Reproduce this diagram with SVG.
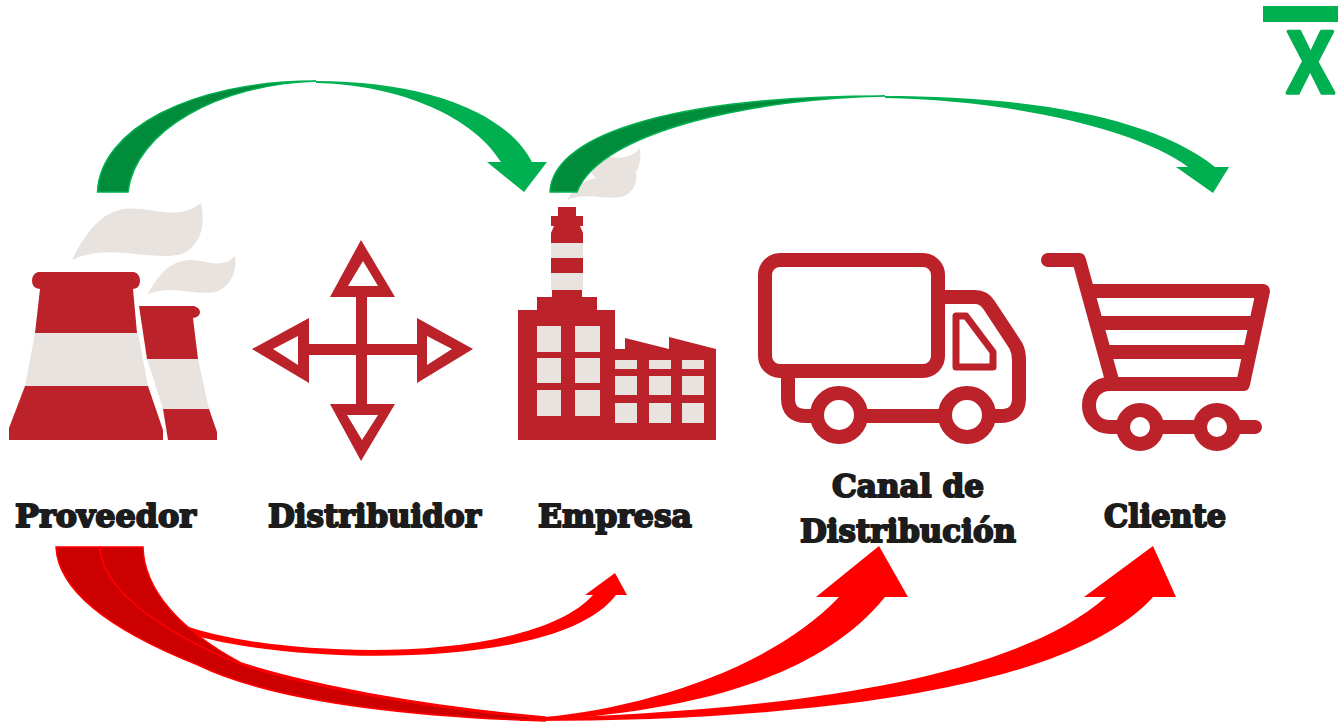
<svg xmlns="http://www.w3.org/2000/svg" width="1338" height="725" viewBox="0 0 1338 725">
<style>
.r{fill:#bb2229}.b{fill:#e9e3df}
.o{fill:none;stroke:#bb2229;stroke-linejoin:round;stroke-linecap:round}
.lbl{font-family:"DejaVu Serif","Liberation Serif",serif;font-weight:700;font-size:32px;fill:#1c1c1c;stroke:#1c1c1c;stroke-width:2px;stroke-linejoin:round}
.gd{fill:#008c3a;stroke:#00b050;stroke-width:1.5}
.gb{fill:#00b050}
.rd{fill:#cc0000;stroke:#f00;stroke-width:1.5}
.rb{fill:#f00}
</style>
<rect width="1338" height="725" fill="#fff"/>
<g id="proveedor">
<path class="b" d="M72 260C84 236 100 212 124 209C150 206 178 222 201 203C205 222 203 244 182 254C150 262 110 242 72 260Z"/>
<path class="b" d="M148 294C158 274 172 260 190 260C208 260 220 270 235 256C237 270 232 286 216 292C194 296 172 284 148 294Z"/>
<path class="r" d="M38 272H134Q140 274 140 281Q140 288 133 289L137 333H35L40 289Q32 288 32 281Q32 274 38 272Z"/>
<path class="b" d="M35 333H138L148 386H25Z"/>
<path class="r" d="M25 386H148L163 430V440H9V428Z"/>
<path class="r" d="M139 306H194Q200 308 200 312Q200 317 193 318L198 359H147Z"/>
<path class="b" d="M147 359H198L209 409H163Z"/>
<path class="r" d="M163 409H209L217 432V440H168Z"/>
<text class="lbl" x="15" y="527" textLength="181" lengthAdjust="spacingAndGlyphs">Proveedor</text>
</g>
<g id="distribuidor">
<path class="r" d="M356 296H367V344H417V355H367V405H356V355H309V344H356Z"/>
<path class="r" d="M361 240L395 297H330ZM363 261L348 286H378Z" fill-rule="evenodd"/>
<path class="r" d="M361 461L395 404H330ZM362 440L347 415H378Z" fill-rule="evenodd"/>
<path class="r" d="M252 349L309 318V383ZM273 349L298 365V336Z" fill-rule="evenodd"/>
<path class="r" d="M473 349L417 318V383ZM452 349L427 365V336Z" fill-rule="evenodd"/>
<text class="lbl" x="268" y="527" textLength="213" lengthAdjust="spacingAndGlyphs">Distribuidor</text>
</g>
<g id="empresa">
<path class="b" d="M567 200C574 188 584 180 596 178C586 170 590 160 604 156C618 158 630 160 640 148C641 158 640 166 636 172C638 182 634 192 622 197C604 200 586 192 567 200Z"/>
<path class="r" d="M558 207H576V216H583V226H580L583 233V243H551V233L554 226H551V216H558Z"/>
<rect class="b" x="551" y="243" width="32" height="15"/>
<rect class="r" x="551" y="258" width="32" height="15"/>
<rect class="b" x="551" y="273" width="32" height="17"/>
<path class="r" d="M552 290H582V297H597V310H615V349H625V338L669 349V337L716 349V440H518V310H537V297H552Z"/>
<g class="b">
<rect x="537" y="326" width="24" height="26"/><rect x="575" y="326" width="25" height="26"/>
<rect x="537" y="358" width="24" height="25"/><rect x="575" y="358" width="25" height="25"/>
<rect x="537" y="390" width="24" height="26"/><rect x="575" y="390" width="25" height="26"/>
<rect x="615" y="360" width="22" height="9"/><rect x="649" y="360" width="22" height="9"/><rect x="682" y="360" width="22" height="9"/>
<rect x="615" y="376" width="22" height="19"/><rect x="649" y="376" width="22" height="19"/><rect x="682" y="376" width="22" height="19"/>
<rect x="615" y="403" width="22" height="20"/><rect x="649" y="403" width="22" height="20"/><rect x="682" y="403" width="22" height="20"/>
</g>
<text class="lbl" x="538" y="527" textLength="154" lengthAdjust="spacingAndGlyphs">Empresa</text>
</g>
<g id="canal">
<rect class="o" x="765" y="260" width="173" height="111" rx="15" stroke-width="14"/>
<path class="o" stroke-width="14" d="M938 297H975Q984 297 989 305L1016 346Q1019 352 1019 360V398Q1019 416 1000 416H990M788 375V398Q788 416 806 416H815M865 416H940"/>
<circle class="o" cx="839" cy="415" r="22" stroke-width="14"/>
<circle class="o" cx="967" cy="415" r="22" stroke-width="14"/>
<path class="o" stroke-width="7" d="M956 316H966L993 352V367H956Z"/>
<text class="lbl" x="832" y="497" textLength="152" lengthAdjust="spacingAndGlyphs">Canal de</text>
<text class="lbl" x="800" y="542" textLength="216" lengthAdjust="spacingAndGlyphs">Distribución</text>
</g>
<g id="cliente">
<path class="o" stroke-width="14" d="M1048 260H1079L1113 384M1093 291H1263L1243 384H1110C1082 384 1082 427 1110 427H1255M1100 323H1252M1108 352H1246"/>
<circle class="o" cx="1140" cy="427" r="17" stroke-width="14" style="fill:#fff"/>
<circle class="o" cx="1217" cy="427" r="17" stroke-width="14" style="fill:#fff"/>
<text class="lbl" x="1104" y="527" textLength="122" lengthAdjust="spacingAndGlyphs">Cliente</text>
</g>
<g id="connectors">
<path class="gd" d="M97.500 192C100 130 190 81 316 81C220 84 135 130 128 192Z"/>
<path class="gb" d="M316 81C420 81 505 110 532 162H547L524 192L487 162H501C470 112 390 84 316 83Z"/>
<path class="gd" d="M550 192C553 130 690 96 885 96C760 98 600 130 577 192Z"/>
<path class="gb" d="M885 96C1020 96 1150 115 1215 167H1229L1213 193L1176 167H1188C1140 130 1010 100 885 98Z"/>
<path class="rb" d="M183 625C280 660 530 665 593 595H585L615 573L627 595H616C560 670 300 665 197 636Z"/>
<path class="rd" d="M56 547C58 590 110 630 198 665C260 695 370 715 545 721V718C420 708 300 685 237 663C160 630 102 590 100 547Z"/>
<path class="rd" d="M100 547C102 590 160 630 237 663C300 685 420 708 545 718V717C420 706 310 685 241 663C180 630 144 590 143 547Z"/>
<path class="rb" d="M545 717C640 708 770 670 839 597H816L879 546L908 597H885C810 690 660 712 540 721Z"/>
<path class="rb" d="M520 719C740 712 1000 690 1106 597H1084L1153 546L1176 597H1153C1070 690 800 722 520 721Z"/>
</g>
<g id="xbar">
<rect class="gb" x="1263" y="6" width="75" height="16"/>
<text x="1287" y="93" textLength="47" lengthAdjust="spacingAndGlyphs" font-family="'Open Sans','Noto Sans',sans-serif" font-weight="700" font-size="86" fill="#00b050" stroke="#00b050" stroke-width="3.500" stroke-linejoin="round">X</text>
</g>
</svg>
